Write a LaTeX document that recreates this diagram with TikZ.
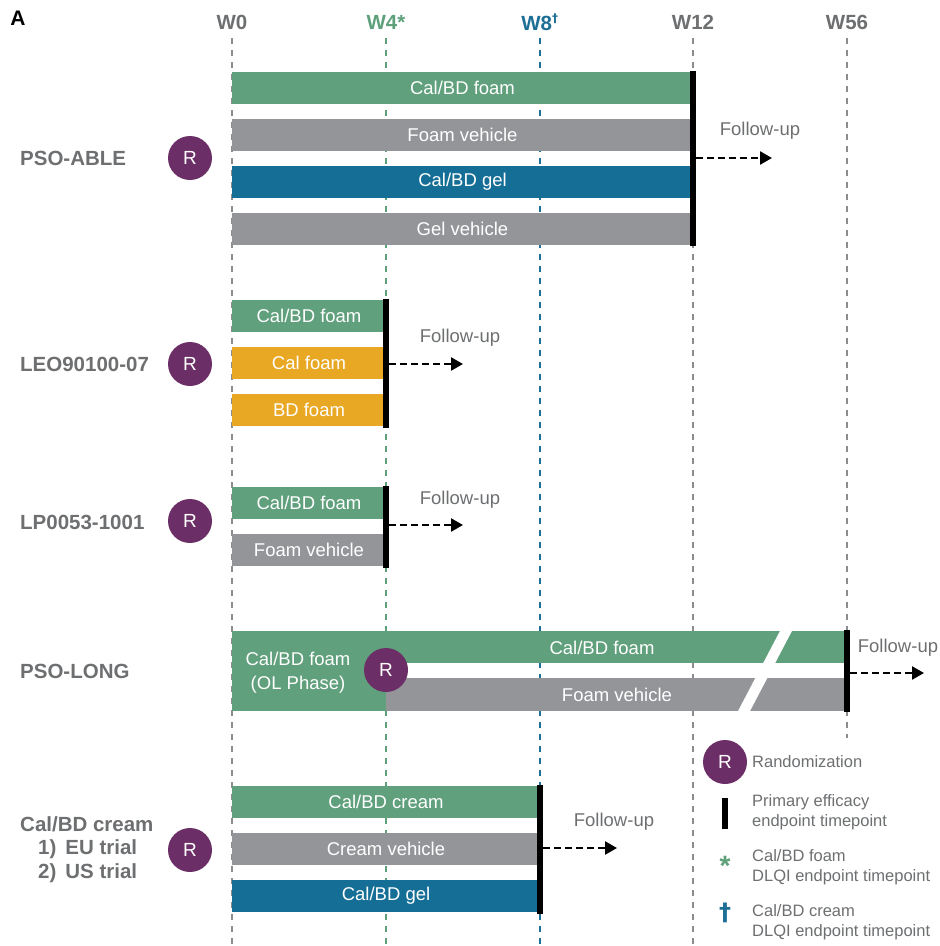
\documentclass[tikz,border=0pt]{standalone}
\usepackage{fontspec}
\setmainfont{Liberation Sans}
\newfontfamily\symfont{DejaVu Sans}
\usetikzlibrary{arrows.meta}
\definecolor{cgreen}{RGB}{96,160,124}
\definecolor{cgray}{RGB}{147,149,152}
\definecolor{cblue}{RGB}{20,110,150}
\definecolor{corange}{RGB}{233,168,35}
\definecolor{cpurple}{RGB}{108,46,102}
\definecolor{ctext}{RGB}{109,111,113}
\definecolor{cwgreen}{RGB}{94,160,122}
\definecolor{cwblue}{RGB}{30,111,150}
\tikzset{
  bar/.style={rectangle, inner sep=0pt, minimum height=32pt, text=white, font=\fontsize{18.5}{20}\selectfont},
  blackbar/.style={rectangle, fill=black, inner sep=0pt, minimum width=6pt},
  rcirc/.style={circle, fill=cpurple, minimum size=44pt, inner sep=0pt, text=white, font=\fontsize{19}{21}\selectfont},
  trial/.style={anchor=west, inner sep=0pt, text=ctext, font=\bfseries\fontsize{20.5}{22}\selectfont},
  wlab/.style={font=\bfseries\fontsize{20.5}{22}\selectfont},
  vline/.style={dashed, dash pattern=on 6pt off 6pt, line width=1.4pt},
  fup/.style={text=ctext, font=\fontsize{18.5}{20}\selectfont},
  farrow/.style={dash pattern=on 7pt off 4pt, line width=2.4pt, -{Triangle[length=12pt,width=13pt]}},
  legtext/.style={anchor=west, inner sep=0pt, text=ctext, font=\fontsize{16.5}{20}\selectfont, align=left}
}
\begin{document}
\begin{tikzpicture}[x=1pt,y=-1pt]
\useasboundingbox (0,0) rectangle (940,946);
% Panel letter
\node[font=\bfseries\fontsize{21}{23}\selectfont, anchor=center] (A) at (18,18) {A};
% week labels
\node[wlab, text=ctext] (w0) at (232,22) {W0};
\node[wlab, text=cwgreen] (w4) at (386,22) {W4*};
\node[wlab, text=cwblue] (w8) at (540,22) {W8\textsuperscript{\symfont\fontsize{12}{12}\selectfont †}};
\node[wlab, text=ctext] (w12) at (693,22) {W12};
\node[wlab, text=ctext] (w56) at (847,22) {W56};
% vertical dashed lines
\draw[vline, draw=ctext!80] (232,38) -- (232,946);
\draw[vline, draw=cwgreen] (386,38) -- (386,946);
\draw[vline, draw=cwblue] (540,38) -- (540,946);
\draw[vline, draw=ctext!80] (693,38) -- (693,946);
\draw[vline, draw=ctext!80] (847,38) -- (847,946);

% ===== PSO-ABLE =====
\node[trial] (t1) at (20,158) {PSO-ABLE};
\node[rcirc] (r1) at (190,158) {R};
\node[bar, fill=cgreen, minimum width=461pt] (a1) at (462.5,88) {Cal/BD foam};
\node[bar, fill=cgray, minimum width=461pt] (a2) at (462.5,135) {Foam vehicle};
\node[bar, fill=cblue, minimum width=461pt] (a3) at (462.5,182) {Cal/BD gel};
\node[bar, fill=cgray, minimum width=461pt] (a4) at (462.5,229) {Gel vehicle};
\node[blackbar, minimum height=175pt] (b1) at (693,158.5) {};
\node[fup] (f1) at (760,131) {Follow-up};
\coordinate (e1) at (772,158);
\draw[farrow] (b1.east |- e1) -- (e1);

% ===== LEO90100-07 =====
\node[trial] (t2) at (20,364) {LEO90100-07};
\node[rcirc] (r2) at (190,364) {R};
\node[bar, fill=cgreen, minimum width=154pt] (l1) at (309,316) {Cal/BD foam};
\node[bar, fill=corange, minimum width=154pt] (l2) at (309,363) {Cal foam};
\node[bar, fill=corange, minimum width=154pt] (l3) at (309,410) {BD foam};
\node[blackbar, minimum height=129pt] (b2) at (386,363) {};
\node[fup] (f2) at (460,338) {Follow-up};
\coordinate (e2) at (463,364);
\draw[farrow] (b2.east |- e2) -- (e2);

% ===== LP0053-1001 =====
\node[trial] (t3) at (20,522) {LP0053-1001};
\node[rcirc] (r3) at (190,521) {R};
\node[bar, fill=cgreen, minimum width=154pt] (p1) at (309,503) {Cal/BD foam};
\node[bar, fill=cgray, minimum width=154pt] (p2) at (309,550) {Foam vehicle};
\node[blackbar, minimum height=82pt] (b3) at (386,526.5) {};
\node[fup] (f3) at (460,500) {Follow-up};
\coordinate (e3) at (463,525);
\draw[farrow] (b3.east |- e3) -- (e3);

% ===== PSO-LONG =====
\node[trial] (t4) at (20,671) {PSO-LONG};
\fill[cgreen] (232,631) rectangle (847,663);
\fill[cgreen] (232,663) rectangle (386,711);
\fill[cgray] (386,678) rectangle (847,711);
\fill[white] (781,629) -- (793,629) -- (749,713) -- (737,713) -- cycle;
\node[bar, fill=none, minimum width=10pt] (g1) at (602,648) {Cal/BD foam};
\node[bar, fill=none, minimum width=10pt] (g2) at (617,695) {Foam vehicle};
\node[text=white, font=\fontsize{18.5}{24}\selectfont, align=center] (g0) at (298,673) {Cal/BD foam\\(OL Phase)};
\node[rcirc] (r4) at (386,670) {R};
\node[blackbar, minimum height=82pt] (b4) at (847,671) {};
\node[fup] (f4) at (898,648) {Follow-up};
\coordinate (e4) at (924,673);
\draw[farrow] (b4.east |- e4) -- (e4);

% ===== Cal/BD cream =====
\node[text=ctext, inner sep=0pt, font=\bfseries\fontsize{20.5}{23.5}\selectfont, align=left, anchor=west] (t5) at (20,849.5) {Cal/BD cream\\\hspace*{18pt}1)\hspace*{9pt}EU trial\\\hspace*{18pt}2)\hspace*{9pt}US trial};
\node[rcirc] (r5) at (190,850) {R};
\node[bar, fill=cgreen, minimum width=308pt] (c1) at (386,802) {Cal/BD cream};
\node[bar, fill=cgray, minimum width=308pt] (c2) at (386,849) {Cream vehicle};
\node[bar, fill=cblue, minimum width=308pt] (c3) at (386,896) {Cal/BD gel};
\node[blackbar, minimum height=129pt] (b5) at (540,849) {};
\node[fup] (f5) at (614,822) {Follow-up};
\coordinate (e5) at (617,848);
\draw[farrow] (b5.east |- e5) -- (e5);

% ===== Legend =====
\fill[white] (700,738) rectangle (940,946);
\node[rcirc] (lr) at (725,762) {R};
\node[legtext] (lt1) at (752,762) {Randomization};
\node[blackbar, minimum height=31pt] (lb) at (725,813) {};
\node[legtext] (lt2) at (752,812) {Primary efficacy\\endpoint timepoint};
\node[text=cwgreen, font=\bfseries\fontsize{28}{28}\selectfont] (ls) at (725,866) {*};
\node[legtext] (lt3) at (752,867) {Cal/BD foam\\DLQI endpoint timepoint};
\node[text=cwblue, font=\symfont\bfseries\fontsize{24}{24}\selectfont] (ld) at (725,913) {†};
\node[legtext] (lt4) at (752,922) {Cal/BD cream\\DLQI endpoint timepoint};
\end{tikzpicture}
\end{document}
